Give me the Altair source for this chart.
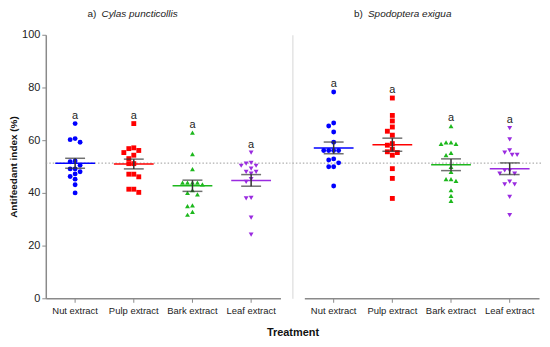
import altair as alt
import pandas as pd

treatments = ["Nut extract", "Pulp extract", "Bark extract", "Leaf extract"]
colors = ["#0000FF", "#FF0000", "#1DB81D", "#9A2BE0"]
shapes = ["circle", "square", "triangle-up", "triangle-down"]

cylas_nut = [66.3, 60.6, 60.2, 59.2, 52.1, 51.8, 50.5, 49.1, 49.1, 48.0, 47.2, 46.2, 45.2, 43.1, 40.0]
cylas_pulp = [66.3, 57.1, 56.8, 56.1, 55.3, 54.3, 53.0, 51.1, 51.1, 47.1, 47.1, 46.1, 41.4, 41.4, 40.2]
cylas_bark = [62.9, 54.7, 49.0, 43.9, 43.9, 43.9, 43.9, 43.2, 41.0, 40.0, 39.4, 35.3, 35.0, 32.8, 31.7]
cylas_leaf = [55.3, 51.4, 51.1, 50.3, 50.3, 49.2, 48.0, 48.0, 47.3, 45.2, 44.2, 38.1, 37.9, 30.6, 24.2]

spod_nut = [78.3, 66.5, 65.4, 63.1, 59.2, 56.1, 56.1, 56.1, 56.1, 52.9, 52.5, 51.4, 49.9, 49.9, 42.6]
spod_pulp = [76.0, 69.4, 67.3, 65.0, 63.4, 61.9, 58.7, 58.1, 56.6, 55.6, 55.3, 54.3, 49.2, 45.5, 37.9]
spod_bark = [65.3, 59.2, 59.2, 58.6, 58.6, 55.2, 54.3, 49.9, 48.0, 45.2, 45.2, 44.6, 41.0, 38.9, 37.0]
spod_leaf = [64.6, 60.3, 56.1, 55.3, 54.4, 54.4, 48.5, 48.5, 47.3, 47.3, 44.3, 43.2, 43.2, 38.5, 31.6]

letters = ["a", "a", "a", "a"]
reference_level = 51.3

W = 236
H = 265
STEP = W / len(treatments)
PX = H / 100.0


def swarm(vals, d=5.0, step=2.5):
    order = sorted(range(len(vals)), key=lambda i: -vals[i])
    placed = []
    offs = [0.0] * len(vals)
    cands = [0.0]
    for k in range(1, 12):
        cands += [-k * step, k * step]
    for i in order:
        y = vals[i] * PX
        for c in cands:
            if all((c - px) ** 2 + (y - py) ** 2 >= d * d - 0.01 for px, py in placed):
                offs[i] = c
                placed.append((c, y))
                break
    return offs


def panel(groups, tag, species, left):
    rows = []
    for t, vals in zip(treatments, groups):
        for v, o in zip(vals, swarm(vals)):
            rows.append({"treatment": t, "value": v, "off": o})
    df = pd.DataFrame(rows)
    lab = pd.DataFrame({"treatment": treatments, "letter": letters})

    xaxis = alt.Axis(labelAngle=0, title=None, tickSize=4, labelPadding=3,
                     domainColor="#8a8a8a", tickColor="#8a8a8a", domainWidth=1.5,
                     labelFont="Liberation Sans", labelFontSize=9.5, labelColor="#222")
    if left:
        yaxis = alt.Axis(values=[0, 20, 40, 60, 80, 100], title="Antifeedant index (%)",
                         grid=False, tickSize=4, labelPadding=2, titlePadding=3,
                         domainColor="#8a8a8a", tickColor="#8a8a8a", domainWidth=1.5,
                         labelFont="Liberation Sans", labelFontSize=11, labelColor="#222",
                         titleFont="Liberation Sans", titleFontSize=10, titleFontWeight="bold",
                         titleColor="#111")
    else:
        yaxis = alt.Axis(labels=False, ticks=False, title=None, grid=False,
                         domainColor="#d6d6d6", domainWidth=1, offset=12)

    xs = alt.X("treatment:N", sort=treatments,
               scale=alt.Scale(type="band", domain=treatments, paddingInner=0, paddingOuter=0),
               axis=xaxis)
    ys = alt.Y("value:Q", scale=alt.Scale(domain=[0, 100], nice=False), axis=yaxis)
    col = alt.Color("treatment:N", scale=alt.Scale(domain=treatments, range=colors), legend=None)

    ref = alt.Chart(pd.DataFrame({"ref": [reference_level]})).mark_rule(
        color="#9a9a9a", strokeDash=[1.5, 2], strokeWidth=1
    ).encode(y=alt.Y("ref:Q", scale=alt.Scale(domain=[0, 100], nice=False), axis=yaxis),
             x=alt.value(0 if left else -12), x2=alt.value(W + 10 if left else W + 2))

    pts = alt.Chart(df).mark_point(filled=True, opacity=1, size=24).encode(
        x=xs, y=ys,
        xOffset=alt.XOffset("off:Q", scale=alt.Scale(domain=[-STEP / 2, STEP / 2])),
        color=col,
        shape=alt.Shape("treatment:N", scale=alt.Scale(domain=treatments, range=shapes), legend=None),
    )
    mean = alt.Chart(df).mark_tick(orient="horizontal", size=40, thickness=1.5).encode(
        x=xs, y=alt.Y("mean(value):Q"), color=col)
    err = alt.Chart(df).mark_errorbar(
        extent="stderr", color="#333333", thickness=1.5,
        ticks={"size": 20, "thickness": 1.5, "color": "#333333"},
    ).encode(x=xs, y=alt.Y("value:Q", scale=alt.Scale(domain=[0, 100], nice=False), axis=yaxis))
    mx = alt.Chart(df).transform_aggregate(mx="max(value)", groupby=["treatment"]).transform_lookup(
        lookup="treatment", from_=alt.LookupData(lab, "treatment", ["letter"])
    ).mark_text(dy=-5, baseline="alphabetic", font="Liberation Sans", fontSize=11, color="#222").encode(
        x=xs, y=alt.Y("mx:Q"), text="letter:N")

    t1 = alt.Chart(pd.DataFrame({"t": [tag]})).mark_text(
        align="left", baseline="middle", font="Liberation Sans", fontSize=10, color="#222"
    ).encode(x=alt.value(42 if left else 50), y=alt.value(-21), text="t:N")
    t2 = alt.Chart(pd.DataFrame({"t": [species]})).mark_text(
        align="left", baseline="middle", font="Liberation Sans", fontSize=10,
        fontStyle="italic", color="#222"
    ).encode(x=alt.value(56 if left else 64), y=alt.value(-21), text="t:N")

    return alt.layer(ref, pts, mean, err, mx, t1, t2).properties(width=W, height=H)


left = panel([cylas_nut, cylas_pulp, cylas_bark, cylas_leaf], "a)", "Cylas puncticollis", True)
right = panel([spod_nut, spod_pulp, spod_bark, spod_leaf], "b)", "Spodoptera exigua", False)

chart = alt.hconcat(left, right, spacing=0).properties(
    title=alt.TitleParams("Treatment", orient="bottom", anchor="middle", font="Liberation Sans",
                          fontSize=11, fontWeight="bold", color="#111", offset=12, dx=18),
    padding={"left": 0, "top": 0, "right": 0, "bottom": 0},
).configure_view(strokeWidth=0)

chart.save("out.html", embed_options={"renderer": "svg", "actions": False})
